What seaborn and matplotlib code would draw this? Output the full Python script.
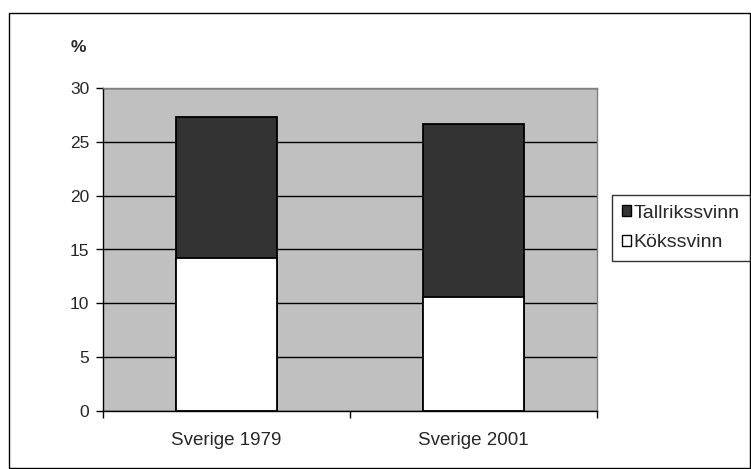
import matplotlib
matplotlib.use("Agg")
import matplotlib.pyplot as plt
import seaborn as sns
import pandas as pd
from matplotlib.patches import Rectangle, Patch

# Waste shares, percent
categories = ["Sverige 1979", "Sverige 2001"]
kokssvinn = [14.2, 10.6]
tallrikssvinn = [13.1, 16.1]
yticks = [0, 5, 10, 15, 20, 25, 30]

sns.set_style("white")
plt.rcParams["font.family"] = ["Liberation Sans", "DejaVu Sans"]

df = pd.DataFrame({
    "kategori": categories,
    "Kökssvinn": kokssvinn,
    "Tallrikssvinn": tallrikssvinn,
})
df["total"] = df["Kökssvinn"] + df["Tallrikssvinn"]

fig = plt.figure(figsize=(7.51, 4.69), dpi=100)
W, H = 751, 469
ax = fig.add_axes([103 / W, 1 - 411 / H, (597 - 103) / W, (411 - 88) / H])
ax.set_facecolor("#C0C0C0")

# outer frame of the chart
fig.patches.append(Rectangle((9 / W, 1 - 468 / H), (750 - 9) / W, (468 - 13) / H,
                             transform=fig.transFigure, fill=False,
                             edgecolor="black", linewidth=1))

ax.set_axisbelow(True)
ax.yaxis.grid(True, color="black", linewidth=1)

sns.barplot(data=df, x="kategori", y="total", color="#333333", width=0.405,
            edgecolor="black", linewidth=1.3, saturation=1, ax=ax)
sns.barplot(data=df, x="kategori", y="Kökssvinn", color="white", width=0.405,
            edgecolor="black", linewidth=1.3, saturation=1, ax=ax)

ax.set_xlim(-0.5, 1.5)
ax.set_ylim(0, 30)
ax.set_yticks(yticks)
ax.set_xlabel("")
ax.set_ylabel("")
ax.tick_params(axis="y", length=5, width=1, color="black", labelsize=12.5, pad=5, left=True)
ax.set_xticks([-0.5, 0.5, 1.5], minor=True)
ax.tick_params(axis="x", which="major", length=0, labelsize=13.5, pad=15)
ax.tick_params(axis="x", which="minor", length=5, width=1, color="black", bottom=True)

for side in ["top", "right"]:
    ax.spines[side].set_visible(True)
    ax.spines[side].set_color("#808080")
    ax.spines[side].set_linewidth(1)
for side in ["left", "bottom"]:
    ax.spines[side].set_color("black")
    ax.spines[side].set_linewidth(1)

fig.text(78 / W, 1 - 48 / H, "%", fontsize=12.5, fontweight="bold",
         ha="center", va="center")

handles = [Patch(facecolor="#333333", edgecolor="black", label="Tallrikssvinn"),
           Patch(facecolor="white", edgecolor="black", label="Kökssvinn")]
leg = fig.legend(handles=handles, loc="upper left",
                 bbox_to_anchor=(612 / W, 1 - 195 / H), fontsize=14,
                 frameon=True, fancybox=False, edgecolor="black",
                 handlelength=0.5, handleheight=0.5, handletextpad=0.12,
                 borderpad=0.5, labelspacing=0.65, borderaxespad=0)
leg.get_frame().set_linewidth(1)

fig.savefig("out.png", dpi=100)
